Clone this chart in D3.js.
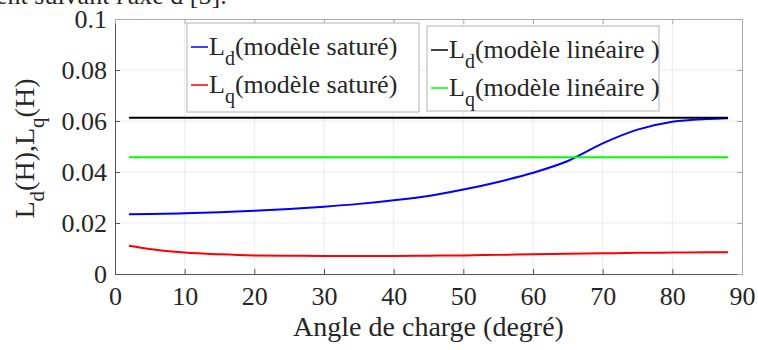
<!DOCTYPE html>
<html>
<head>
<meta charset="utf-8">
<script src="https://cdn.jsdelivr.net/npm/d3@7"></script>
<style>
  body { margin: 0; background: #fff; }
  svg text { fill: #262626; }
</style>
</head>
<body>
<svg id="chart" width="758" height="350"></svg>
<script>
// angle de charge (degré)
var angles = [2, 5, 10, 15, 20, 25, 30, 35, 40, 45, 50, 55, 60, 65, 70, 75, 80, 85, 88];
var ldSat = [0.0234, 0.0235, 0.0238, 0.0242, 0.0248, 0.0255, 0.0264, 0.0275, 0.0289, 0.0306, 0.0331, 0.0361, 0.0397, 0.0443, 0.0512, 0.0566, 0.0597, 0.0608, 0.0611];
var lqSat = [0.0111, 0.0098, 0.0084, 0.0077, 0.0073, 0.0072, 0.0071, 0.0071, 0.0071, 0.0072, 0.0073, 0.0075, 0.0077, 0.0079, 0.0081, 0.0083, 0.0084, 0.0085, 0.0085];
var ldLin = 0.0613;
var lqLin = 0.0458;
var xTicks = [0, 10, 20, 30, 40, 50, 60, 70, 80, 90];
var yTicks = [0, 0.02, 0.04, 0.06, 0.08, 0.1];

var FONT = 'Liberation Serif, Times New Roman, Times, Tinos, Noto Serif, DejaVu Serif, FreeSerif, serif';

var svg = d3.select('#chart'),
	margin = {left: 115, top: 19, right: 16, bottom: 76},
	w = 758 - margin.left - margin.right,
	h = 350 - margin.top - margin.bottom;

var x = d3.scaleLinear().domain([0, 90]).range([margin.left, margin.left + w]);
var y = d3.scaleLinear().domain([0, 0.1]).range([margin.top + h, margin.top]);

// bout de phrase coupé au-dessus de la figure
svg.append('text')
	.attr('x', -4).attr('y', 4)
	.style('font-family', FONT)
	.attr('font-size', 26)
	.text("ent suivant l'axe d [5].");

// grille
svg.append('g').selectAll('line')
	.data(xTicks.slice(1, -1))
	.enter().append('line')
	.attr('x1', function (d) { return x(d); }).attr('x2', function (d) { return x(d); })
	.attr('y1', y(0)).attr('y2', y(0.1))
	.attr('stroke', '#ebebeb').attr('stroke-width', 1);
svg.append('g').selectAll('line')
	.data(yTicks.slice(1, -1))
	.enter().append('line')
	.attr('y1', function (d) { return y(d); }).attr('y2', function (d) { return y(d); })
	.attr('x1', x(0)).attr('x2', x(90))
	.attr('stroke', '#ebebeb').attr('stroke-width', 1);

// axes
var xAxis = svg.append('g')
	.attr('transform', 'translate(0,' + y(0) + ')')
	.call(d3.axisBottom(x).tickValues(xTicks).tickSizeInner(-5).tickSizeOuter(0).tickPadding(13));
var yAxis = svg.append('g')
	.attr('transform', 'translate(' + x(0) + ',0)')
	.call(d3.axisLeft(y).tickValues(yTicks).tickSizeInner(-5).tickSizeOuter(0).tickPadding(8)
		.tickFormat(function (d) { return d === 0 ? '0' : d3.format('.2~f')(d); }));
[xAxis, yAxis].forEach(function (a) {
	a.attr('font-size', 26);
	a.select('.domain').attr('stroke', '#555');
	a.selectAll('.tick line').attr('stroke', '#555');
	a.selectAll('.tick text').attr('fill', '#262626').style('font-family', FONT);
});

// haut et droite de la boîte
svg.append('g')
	.attr('transform', 'translate(0,' + y(0.1) + ')')
	.call(d3.axisTop(x).tickValues(xTicks).tickSizeInner(-5).tickSizeOuter(0).tickFormat(''))
	.call(function (g) { g.selectAll('line, path').attr('stroke', '#aaa'); });
svg.append('g')
	.attr('transform', 'translate(' + x(90) + ',0)')
	.call(d3.axisRight(y).tickValues(yTicks).tickSizeInner(-5).tickSizeOuter(0).tickFormat(''))
	.call(function (g) { g.selectAll('line, path').attr('stroke', '#aaa'); });

// courbes
var line = d3.line()
	.x(function (d) { return x(d[0]); })
	.y(function (d) { return y(d[1]); })
	.curve(d3.curveMonotoneX);

var series = [
	{ sub: 'd', label: '(modèle saturé)', color: '#0000ff', values: d3.zip(angles, ldSat) },
	{ sub: 'q', label: '(modèle saturé)', color: '#ff0000', values: d3.zip(angles, lqSat) },
	{ sub: 'd', label: '(modèle linéaire )', color: '#000000', values: [[angles[0], ldLin], [angles[angles.length - 1], ldLin]] },
	{ sub: 'q', label: '(modèle linéaire )', color: '#00ff00', values: [[angles[0], lqLin], [angles[angles.length - 1], lqLin]] }
];

// légendes (2 boîtes)
var boxes = [
	{ x: 187, y: 23, w: 232, h: 89, items: [series[0], series[1]] },
	{ x: 427, y: 26, w: 232, h: 85, items: [series[2], series[3]] }
];
boxes.forEach(function (b) {
	var g = svg.append('g').attr('transform', 'translate(' + b.x + ',' + b.y + ')');
	g.append('rect')
		.attr('width', b.w).attr('height', b.h)
		.attr('fill', '#fff').attr('stroke', '#b4b4b4').attr('stroke-width', 1);
	b.items.forEach(function (s, i) {
		var by = 32 + i * 38;
		g.append('line')
			.attr('x1', 4).attr('x2', 21)
			.attr('y1', by - 8).attr('y2', by - 8)
			.attr('stroke', s.color).attr('stroke-width', 1.5);
		var t = g.append('text').attr('x', 22).attr('y', by)
			.style('font-family', FONT).attr('font-size', 26);
		t.append('tspan').text('L');
		t.append('tspan').attr('dy', 10).attr('font-size', 20).text(s.sub);
		t.append('tspan').attr('dy', -10).text(s.label);
	});
});

series.forEach(function (s) {
	svg.append('path')
		.datum(s.values)
		.attr('d', line)
		.attr('fill', 'none')
		.attr('stroke', s.color)
		.attr('stroke-width', 2);
});

// titres des axes
svg.append('text')
	.attr('x', x(45)).attr('y', 336)
	.attr('text-anchor', 'middle')
	.style('font-family', FONT)
	.attr('font-size', 28)
	.text('Angle de charge (degré)');

var yl = svg.append('text')
	.attr('transform', 'translate(34,' + (y(0.05) + 2) + ') rotate(-90)')
	.attr('text-anchor', 'middle')
	.style('font-family', FONT)
	.attr('font-size', 28);
yl.append('tspan').text('L');
yl.append('tspan').attr('dy', 10).attr('font-size', 21).text('d');
yl.append('tspan').attr('dy', -10).text('(H),L');
yl.append('tspan').attr('dy', 10).attr('font-size', 21).text('q');
yl.append('tspan').attr('dy', -10).text('(H)');
</script>
</body>
</html>
